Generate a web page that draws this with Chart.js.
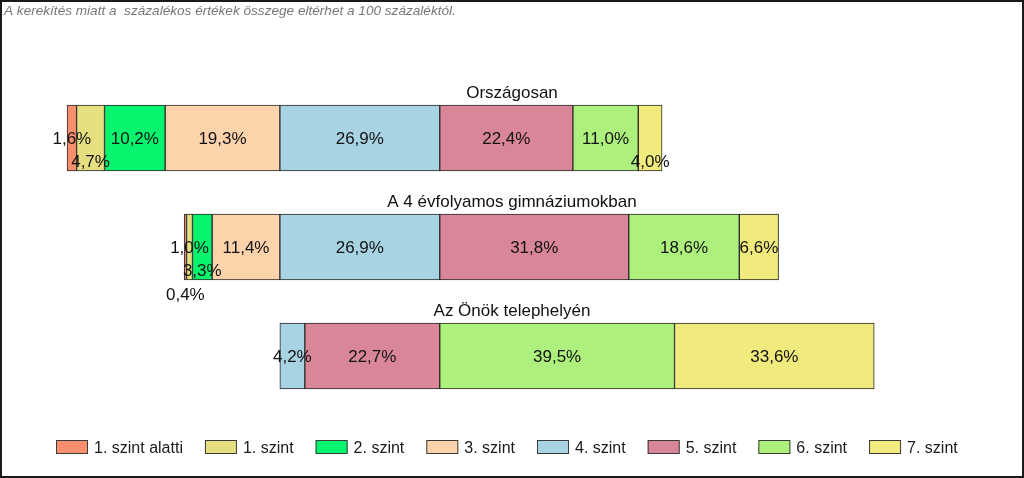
<!DOCTYPE html>
<html><head><meta charset="utf-8">
<script src="https://cdn.jsdelivr.net/npm/chart.js@4.4.0/dist/chart.umd.min.js"></script>
<style>html,body{margin:0;padding:0;background:#fff}canvas{display:block}</style>
</head><body>
<canvas id="c" width="1024" height="478"></canvas>
<script>
// ---- data ----
const categories = ['Országosan', 'A 4 évfolyamos gimnáziumokban', 'Az Önök telephelyén'];
const levels = ['1. szint alatti', '1. szint', '2. szint', '3. szint', '4. szint', '5. szint', '6. szint', '7. szint'];
const orszagosan = [1.6, 4.7, 10.2, 19.3, 26.9, 22.4, 11.0, 4.0];
const gimnaziumok = [0.4, 1.0, 3.3, 11.4, 26.9, 31.8, 18.6, 6.6];
const telephely = [null, null, null, null, 4.2, 22.7, 39.5, 33.6];
// number of levels drawn to the left of the common zero line, per row
const leftLevelCount = [5, 5, 6];
const footnote = 'A kerekítés miatt a  százalékos értékek összege eltérhet a 100 százaléktól.';

// ---- style ----
const colors = ['#F98F6E', '#E6DF7F', '#06F46E', '#FDD3AC', '#A8D3E3', '#DA8699', '#AEF07D', '#F0EB7C'];
// label placement: 0 = bar centre, 1 = lower part of bar, 2 = below bar
const labelPlacement = [[0,1,0,0,0,0,0,1],[2,0,1,0,0,0,0,0],[0,0,0,0,0,0,0,0]];
const FONT = 'Arial, "Liberation Sans", sans-serif';

const rows = [orszagosan, gimnaziumok, telephely];
const ranges = rows.map((vals, ri) => {
  let start = -vals.slice(0, leftLevelCount[ri]).reduce((a, v) => a + (v || 0), 0);
  return vals.map(v => {
    if (v == null) return null;
    const r = [start, start + v];
    start += v;
    return r;
  });
});

const datasets = levels.map((lab, li) => ({
  label: lab,
  data: ranges.map(r => r[li]),
  backgroundColor: colors[li],
  borderColor: '#2a2a2a',
  borderWidth: 1,
  borderSkipped: false,
  grouped: false,
  barThickness: 66
}));

const fmt = v => v.toFixed(1).replace('.', ',') + '%';

const overlay = {
  id: 'overlay',
  beforeDraw(chart) {
    const ctx = chart.ctx;
    ctx.save();
    ctx.fillStyle = '#fff';
    ctx.fillRect(0, 0, chart.width, chart.height);
    ctx.restore();
  },
  afterDatasetsDraw(chart) {
    const ctx = chart.ctx;
    ctx.save();
    // value labels
    ctx.fillStyle = '#111';
    ctx.font = '17px ' + FONT;
    ctx.textAlign = 'center';
    ctx.textBaseline = 'alphabetic';
    chart.data.datasets.forEach((ds, di) => {
      const meta = chart.getDatasetMeta(di);
      meta.data.forEach((bar, ri) => {
        const v = rows[ri][di];
        if (v == null) return;
        const p = bar.getProps(['x', 'y', 'base', 'height'], true);
        const cx = (p.x + p.base) / 2;
        const place = labelPlacement[ri][di];
        const cy = p.y + [0, p.height / 2 - 10, p.height / 2 + 14][place];
        ctx.fillText(fmt(v), cx, cy + 6);
      });
    });
    // row titles
    const ref = chart.getDatasetMeta(4);
    chart.data.labels.forEach((lab, ri) => {
      const p = ref.data[ri].getProps(['y', 'height'], true);
      ctx.fillText(lab, chart.width / 2, p.y - p.height / 2 - 7);
    });
    // legend
    ctx.font = '16px ' + FONT;
    ctx.textAlign = 'left';
    const boxW = 32, boxH = 14, txtOff = 38, gap = 22;
    const widths = chart.data.datasets.map(d => txtOff + ctx.measureText(d.label).width);
    const total = widths.reduce((a, b) => a + b, 0) + gap * (widths.length - 1);
    let lx = Math.round(chart.width / 2 - 5 - total / 2);
    const by = 440;
    chart.data.datasets.forEach((d, i) => {
      ctx.fillStyle = d.backgroundColor;
      ctx.fillRect(lx, by, boxW, boxH);
      ctx.strokeStyle = '#3a3a3a';
      ctx.lineWidth = 1;
      ctx.strokeRect(lx + 0.5, by + 0.5, boxW - 1, boxH - 1);
      ctx.fillStyle = '#1a1a1a';
      ctx.fillText(d.label, lx + txtOff, by + 13);
      lx += widths[i] + gap;
    });
    // footnote
    ctx.font = 'italic 13.6px ' + FONT;
    ctx.fillStyle = '#787878';
    ctx.fillText(footnote, 4, 15);
    // frame
    ctx.strokeStyle = '#1a1a1a';
    ctx.lineWidth = 2;
    ctx.strokeRect(1, 1, chart.width - 2, chart.height - 2);
    ctx.restore();
  }
};

new Chart(document.getElementById('c'), {
  type: 'bar',
  data: { labels: categories, datasets },
  options: {
    indexAxis: 'y',
    responsive: false,
    animation: false,
    layout: { padding: { left: 53.4, right: 19.6, top: 83.5, bottom: 67.5 } },
    scales: {
      x: { type: 'linear', min: -65, max: 95, display: false },
      y: { type: 'category', display: false }
    },
    plugins: { legend: { display: false }, tooltip: { enabled: false } }
  },
  plugins: [overlay]
});
</script>
</body></html>
